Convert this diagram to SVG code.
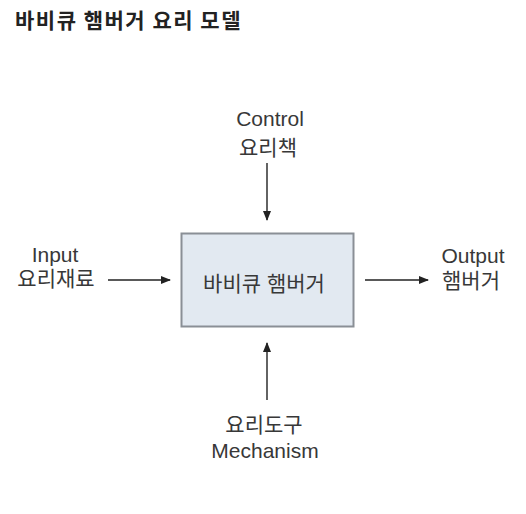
<svg xmlns="http://www.w3.org/2000/svg" width="526" height="514" viewBox="0 0 526 514">
<style>
.t{font-family:"Liberation Sans","Noto Sans CJK KR",sans-serif;font-size:21px;fill:#383838;text-anchor:middle}
.title{font-family:"Noto Sans CJK KR","Liberation Sans",sans-serif;font-size:21px;font-weight:bold;fill:#222;letter-spacing:1.5px}
.c{stroke:#222;stroke-width:1.4;fill:none}
</style>
<defs>
<marker id="ah" markerWidth="10" markerHeight="8" refX="9" refY="4" orient="auto" markerUnits="userSpaceOnUse">
<path d="M0,0 L10,4 L0,8 Z" fill="#222"/>
</marker>
</defs>
<rect width="526" height="514" fill="#fff"/>
<text class="title" x="15" y="28">바비큐 햄버거 요리 모델</text>
<g id="process">
<rect x="181.5" y="233.5" width="172" height="93" fill="#e2e9f1" stroke="#8a8f96" stroke-width="2"/>
<text class="t" x="264" y="291">바비큐 햄버거</text>
</g>
<g id="control">
<text class="t" x="270" y="126">Control</text>
<text class="t" x="268" y="155">요리책</text>
</g>
<g id="input">
<text class="t" x="55" y="262">Input</text>
<text class="t" x="56" y="286">요리재료</text>
</g>
<g id="output">
<text class="t" x="473" y="263">Output</text>
<text class="t" x="471" y="288">햄버거</text>
</g>
<g id="mechanism">
<text class="t" x="264" y="432">요리도구</text>
<text class="t" x="265" y="458">Mechanism</text>
</g>
<g id="connectors">
<line class="c" x1="267" y1="163" x2="267" y2="220" marker-end="url(#ah)"/>
<line class="c" x1="108" y1="280" x2="170" y2="280" marker-end="url(#ah)"/>
<line class="c" x1="365" y1="280" x2="428" y2="280" marker-end="url(#ah)"/>
<line class="c" x1="267" y1="400" x2="267" y2="343" marker-end="url(#ah)"/>
</g>
</svg>
